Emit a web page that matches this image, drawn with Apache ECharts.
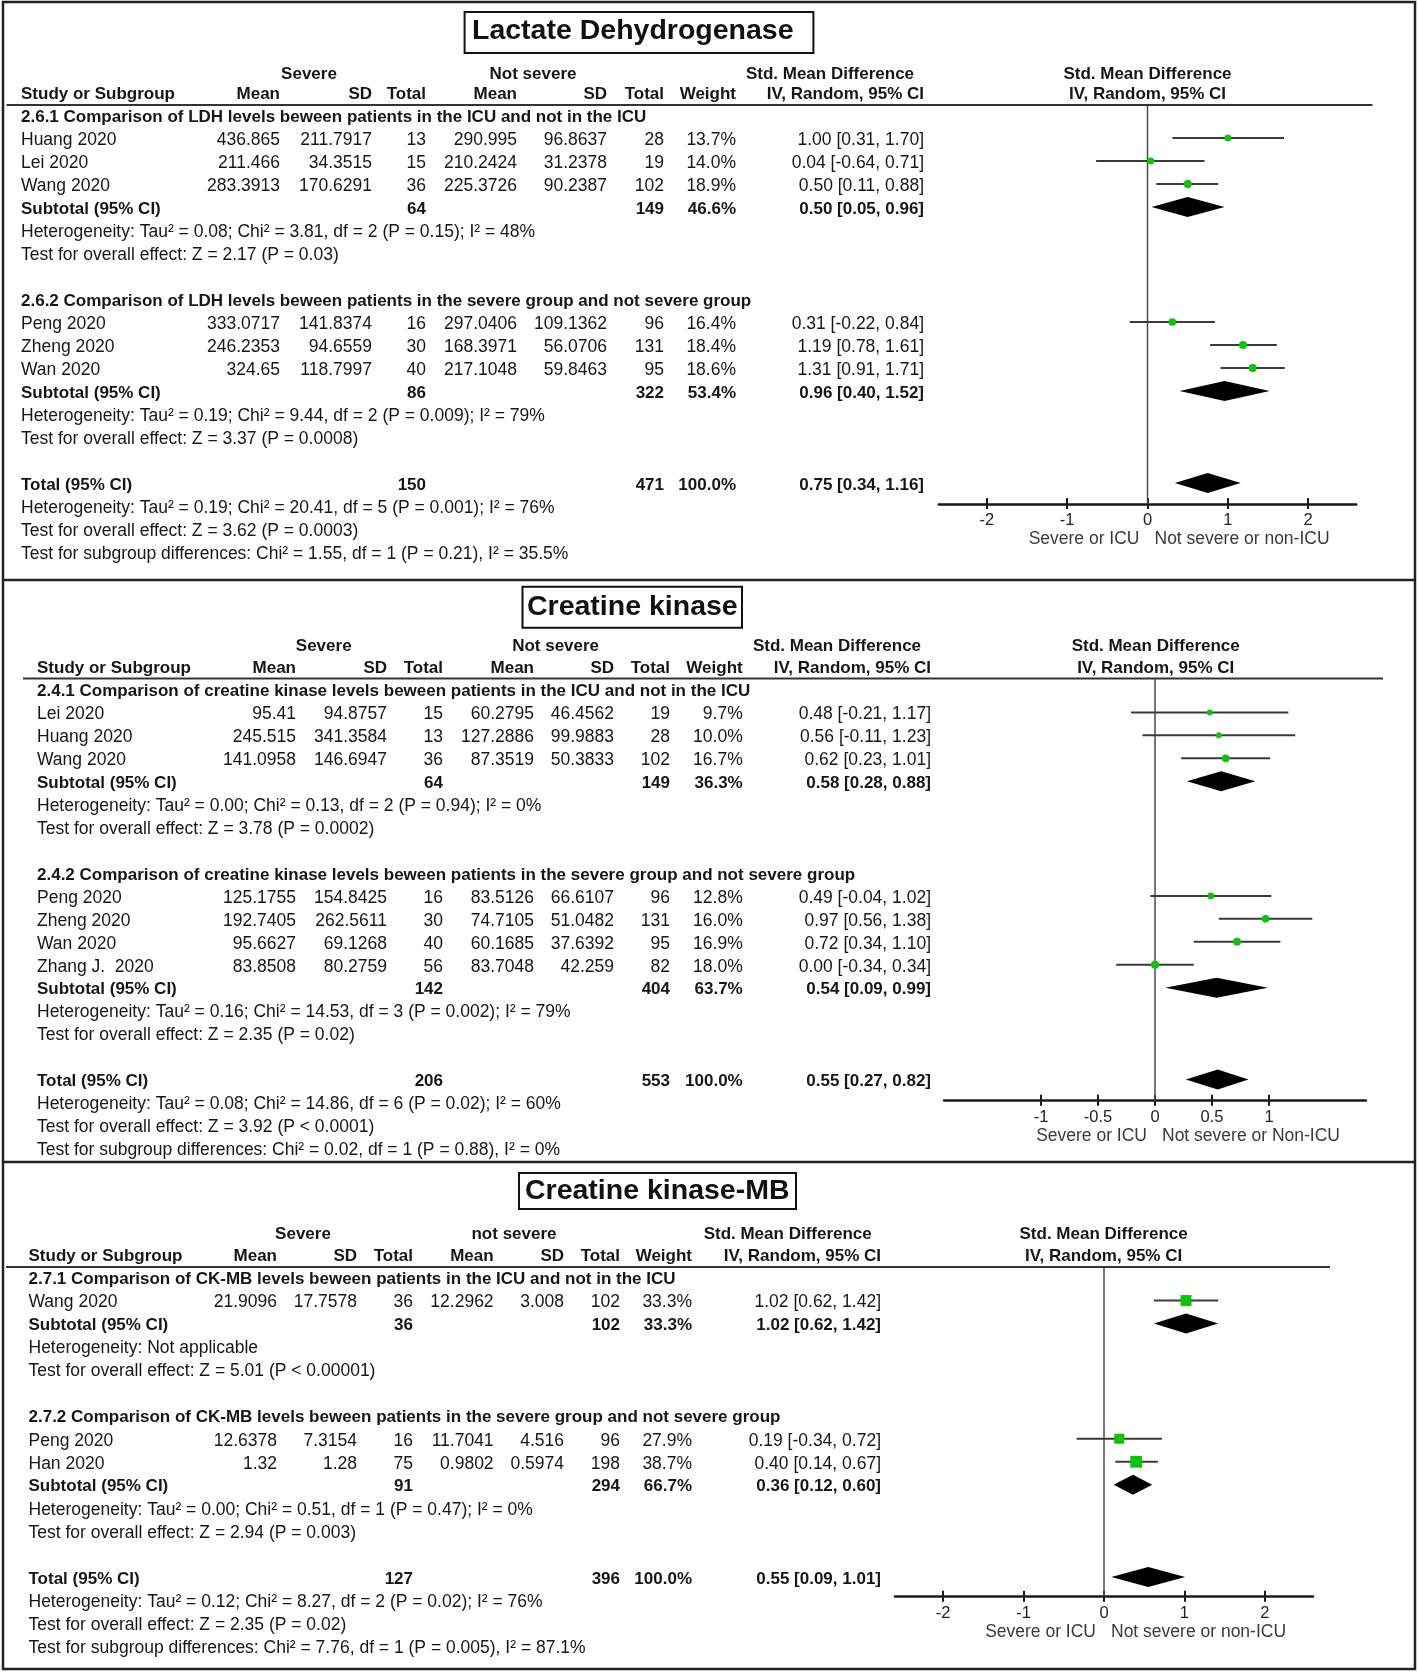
<!DOCTYPE html>
<html><head><meta charset="utf-8">
<script src="https://cdn.jsdelivr.net/npm/echarts/dist/echarts.min.js"></script>
<style>html,body{margin:0;padding:0;background:#fff}#chart{width:1418px;height:1676px}</style>
</head><body><div id="chart"></div>
<script>
// ================= DATA =================
// ---------- Panel 1: Lactate Dehydrogenase ----------
const ldhTitle = 'Lactate Dehydrogenase';
const ldhArmLabels = ['Severe', 'Not severe'];
const ldhSubgroups = ['2.6.1 Comparison of LDH levels beween patients in the ICU and not in the ICU',
                      '2.6.2 Comparison of LDH levels beween patients in the severe group and not severe group'];
const ldhStudies  = ['Huang 2020','Lei 2020','Wang 2020','Peng 2020','Zheng 2020','Wan 2020'];
const ldhStudyGrp = [0,0,0,1,1,1];
const ldhSevMean  = [436.865,211.466,283.3913,333.0717,246.2353,324.65];
const ldhSevSD    = [211.7917,34.3515,170.6291,141.8374,94.6559,118.7997];
const ldhSevN     = [13,15,36,16,30,40];
const ldhNsMean   = [290.995,210.2424,225.3726,297.0406,168.3971,217.1048];
const ldhNsSD     = [96.8637,31.2378,90.2387,109.1362,56.0706,59.8463];
const ldhNsN      = [28,19,102,96,131,95];
const ldhWeight   = [13.7,14.0,18.9,16.4,18.4,18.6];
const ldhSMD      = [1.00,0.04,0.50,0.31,1.19,1.31];
const ldhLower    = [0.31,-0.64,0.11,-0.22,0.78,0.91];
const ldhUpper    = [1.70,0.71,0.88,0.84,1.61,1.71];
const ldhSubSevN  = [64,86];
const ldhSubNsN   = [149,322];
const ldhSubWeight= [46.6,53.4];
const ldhSubSMD   = [0.50,0.96];
const ldhSubLower = [0.05,0.40];
const ldhSubUpper = [0.96,1.52];
const ldhSubHet   = ['Heterogeneity: Tau² = 0.08; Chi² = 3.81, df = 2 (P = 0.15); I² = 48%',
                     'Heterogeneity: Tau² = 0.19; Chi² = 9.44, df = 2 (P = 0.009); I² = 79%'];
const ldhSubTest  = ['Test for overall effect: Z = 2.17 (P = 0.03)',
                     'Test for overall effect: Z = 3.37 (P = 0.0008)'];
const ldhTotalN   = [150, 471];
const ldhTotalWeight = 100.0;
const ldhTotalEffect = [0.75, 0.34, 1.16];
const ldhTotalNotes  = ['Heterogeneity: Tau² = 0.19; Chi² = 20.41, df = 5 (P = 0.001); I² = 76%',
                        'Test for overall effect: Z = 3.62 (P = 0.0003)',
                        'Test for subgroup differences: Chi² = 1.55, df = 1 (P = 0.21), I² = 35.5%'];
const ldhTicks    = [-2,-1,0,1,2];
const ldhFavours  = ['Severe or ICU','Not severe or non-ICU'];

// ---------- Panel 2: Creatine kinase ----------
const ckTitle = 'Creatine kinase';
const ckArmLabels = ['Severe', 'Not severe'];
const ckSubgroups = ['2.4.1 Comparison of creatine kinase levels beween patients in the ICU and not in the ICU',
                     '2.4.2 Comparison of creatine kinase levels beween patients in the severe group and not severe group'];
const ckStudies  = ['Lei 2020','Huang 2020','Wang 2020','Peng 2020','Zheng 2020','Wan 2020','Zhang J.  2020'];
const ckStudyGrp = [0,0,0,1,1,1,1];
const ckSevMean  = [95.41,245.515,141.0958,125.1755,192.7405,95.6627,83.8508];
const ckSevSD    = [94.8757,341.3584,146.6947,154.8425,262.5611,69.1268,80.2759];
const ckSevN     = [15,13,36,16,30,40,56];
const ckNsMean   = [60.2795,127.2886,87.3519,83.5126,74.7105,60.1685,83.7048];
const ckNsSD     = [46.4562,99.9883,50.3833,66.6107,51.0482,37.6392,42.259];
const ckNsN      = [19,28,102,96,131,95,82];
const ckWeight   = [9.7,10.0,16.7,12.8,16.0,16.9,18.0];
const ckSMD      = [0.48,0.56,0.62,0.49,0.97,0.72,0.00];
const ckLower    = [-0.21,-0.11,0.23,-0.04,0.56,0.34,-0.34];
const ckUpper    = [1.17,1.23,1.01,1.02,1.38,1.10,0.34];
const ckSubSevN  = [64,142];
const ckSubNsN   = [149,404];
const ckSubWeight= [36.3,63.7];
const ckSubSMD   = [0.58,0.54];
const ckSubLower = [0.28,0.09];
const ckSubUpper = [0.88,0.99];
const ckSubHet   = ['Heterogeneity: Tau² = 0.00; Chi² = 0.13, df = 2 (P = 0.94); I² = 0%',
                    'Heterogeneity: Tau² = 0.16; Chi² = 14.53, df = 3 (P = 0.002); I² = 79%'];
const ckSubTest  = ['Test for overall effect: Z = 3.78 (P = 0.0002)',
                    'Test for overall effect: Z = 2.35 (P = 0.02)'];
const ckTotalN   = [206, 553];
const ckTotalWeight = 100.0;
const ckTotalEffect = [0.55, 0.27, 0.82];
const ckTotalNotes  = ['Heterogeneity: Tau² = 0.08; Chi² = 14.86, df = 6 (P = 0.02); I² = 60%',
                       'Test for overall effect: Z = 3.92 (P < 0.0001)',
                       'Test for subgroup differences: Chi² = 0.02, df = 1 (P = 0.88), I² = 0%'];
const ckTicks    = [-1,-0.5,0,0.5,1];
const ckFavours  = ['Severe or ICU','Not severe or Non-ICU'];

// ---------- Panel 3: Creatine kinase-MB ----------
const mbTitle = 'Creatine kinase-MB';
const mbArmLabels = ['Severe', 'not severe'];
const mbSubgroups = ['2.7.1 Comparison of CK-MB levels beween patients in the ICU and not in the ICU',
                     '2.7.2 Comparison of CK-MB levels beween patients in the severe group and not severe group'];
const mbStudies  = ['Wang 2020','Peng 2020','Han 2020'];
const mbStudyGrp = [0,1,1];
const mbSevMean  = [21.9096,12.6378,1.32];
const mbSevSD    = [17.7578,7.3154,1.28];
const mbSevN     = [36,16,75];
const mbNsMean   = [12.2962,11.7041,0.9802];
const mbNsSD     = [3.008,4.516,0.5974];
const mbNsN      = [102,96,198];
const mbWeight   = [33.3,27.9,38.7];
const mbSMD      = [1.02,0.19,0.40];
const mbLower    = [0.62,-0.34,0.14];
const mbUpper    = [1.42,0.72,0.67];
const mbSubSevN  = [36,91];
const mbSubNsN   = [102,294];
const mbSubWeight= [33.3,66.7];
const mbSubSMD   = [1.02,0.36];
const mbSubLower = [0.62,0.12];
const mbSubUpper = [1.42,0.60];
const mbSubHet   = ['Heterogeneity: Not applicable',
                    'Heterogeneity: Tau² = 0.00; Chi² = 0.51, df = 1 (P = 0.47); I² = 0%'];
const mbSubTest  = ['Test for overall effect: Z = 5.01 (P < 0.00001)',
                    'Test for overall effect: Z = 2.94 (P = 0.003)'];
const mbTotalN   = [127, 396];
const mbTotalWeight = 100.0;
const mbTotalEffect = [0.55, 0.09, 1.01];
const mbTotalNotes  = ['Heterogeneity: Tau² = 0.12; Chi² = 8.27, df = 2 (P = 0.02); I² = 76%',
                       'Test for overall effect: Z = 2.35 (P = 0.02)',
                       'Test for subgroup differences: Chi² = 7.76, df = 1 (P = 0.005), I² = 87.1%'];
const mbTicks    = [-2,-1,0,1,2];
const mbFavours  = ['Severe or ICU','Not severe or non-ICU'];

// ================= LAYOUT (positions & styles only) =================
const FONT = '"Liberation Sans", Arial, Helvetica, sans-serif';
const INK = '#161616';
const GREEN = '#10c210';
const FS = 17.5;      // regular text
const FSB = 17;       // bold text

const LAYOUT = [
  {zeroX:1147.5, unit:80.3, xmin:-2.6, xmax:2.6, rowTop:92, pitch:23, textDy:2, head1:-20,
   headerLineY:105, axisY:504, lineX1:6.5, lineX2:1372.5,
   col:{study:21, sevMean:280, sevSD:372, sevN:426, nsMean:517, nsSD:607, nsN:664, weight:736, ci:924,
        severeHead:309, nsHead:533, smdHead:830, plotHead:1147.5},
   titleBox:[464.6,12,813.4,53], titleText:[472,31.5], square:false, markerK:1.9},
  {zeroX:1155, unit:114, xmin:-1.85, xmax:1.85, rowTop:666.5, pitch:22.94, textDy:2, head1:-22,
   headerLineY:678.5, axisY:1100.7, lineX1:23, lineX2:1383,
   col:{study:37, sevMean:296, sevSD:387, sevN:443, nsMean:534, nsSD:614, nsN:670, weight:742.7, ci:931,
        severeHead:323.7, nsHead:555.6, smdHead:837, plotHead:1155.7},
   titleBox:[522.5,586.7,742,627.7], titleText:[527,607], square:false, markerK:1.9},
  {zeroX:1104, unit:80.4, xmin:-2.6, xmax:2.6, rowTop:1254.5, pitch:23.03, textDy:2, head1:-22.5,
   headerLineY:1267, axisY:1596.7, lineX1:6, lineX2:1330,
   col:{study:28.5, sevMean:277, sevSD:357, sevN:413, nsMean:493.6, nsSD:564, nsN:620, weight:692, ci:881,
        severeHead:303, nsHead:514, smdHead:787.7, plotHead:1103.6},
   titleBox:[519,1173,796,1209], titleText:[525,1191.5], square:true, markerK:1.9}
];

const PANELS = [
  {title:ldhTitle, arms:ldhArmLabels, subgroups:ldhSubgroups, studies:ldhStudies, grp:ldhStudyGrp,
   sevMean:ldhSevMean, sevSD:ldhSevSD, sevN:ldhSevN, nsMean:ldhNsMean, nsSD:ldhNsSD, nsN:ldhNsN,
   weight:ldhWeight, smd:ldhSMD, lo:ldhLower, hi:ldhUpper,
   subSevN:ldhSubSevN, subNsN:ldhSubNsN, subWeight:ldhSubWeight, subSmd:ldhSubSMD, subLo:ldhSubLower, subHi:ldhSubUpper,
   subHet:ldhSubHet, subTest:ldhSubTest, totalN:ldhTotalN, totalWeight:ldhTotalWeight, totalEffect:ldhTotalEffect,
   totalNotes:ldhTotalNotes, ticks:ldhTicks, favours:ldhFavours},
  {title:ckTitle, arms:ckArmLabels, subgroups:ckSubgroups, studies:ckStudies, grp:ckStudyGrp,
   sevMean:ckSevMean, sevSD:ckSevSD, sevN:ckSevN, nsMean:ckNsMean, nsSD:ckNsSD, nsN:ckNsN,
   weight:ckWeight, smd:ckSMD, lo:ckLower, hi:ckUpper,
   subSevN:ckSubSevN, subNsN:ckSubNsN, subWeight:ckSubWeight, subSmd:ckSubSMD, subLo:ckSubLower, subHi:ckSubUpper,
   subHet:ckSubHet, subTest:ckSubTest, totalN:ckTotalN, totalWeight:ckTotalWeight, totalEffect:ckTotalEffect,
   totalNotes:ckTotalNotes, ticks:ckTicks, favours:ckFavours},
  {title:mbTitle, arms:mbArmLabels, subgroups:mbSubgroups, studies:mbStudies, grp:mbStudyGrp,
   sevMean:mbSevMean, sevSD:mbSevSD, sevN:mbSevN, nsMean:mbNsMean, nsSD:mbNsSD, nsN:mbNsN,
   weight:mbWeight, smd:mbSMD, lo:mbLower, hi:mbUpper,
   subSevN:mbSubSevN, subNsN:mbSubNsN, subWeight:mbSubWeight, subSmd:mbSubSMD, subLo:mbSubLower, subHi:mbSubUpper,
   subHet:mbSubHet, subTest:mbSubTest, totalN:mbTotalN, totalWeight:mbTotalWeight, totalEffect:mbTotalEffect,
   totalNotes:mbTotalNotes, ticks:mbTicks, favours:mbFavours}
];

// ================= BUILD =================
function fmtCI(m, l, h) { return m.toFixed(2) + ' [' + l.toFixed(2) + ', ' + h.toFixed(2) + ']'; }
function txt(G, s, x, y, align, bold, size, color) {
  const a = align || 'left';
  const sz = size || (bold ? FSB : FS);
  G.push({type:'text', silent:true, z:100, x:x, y:y,
    style:{text:s, font:(bold ? 'bold ' : '') + sz + 'px ' + FONT, fill:color || INK,
           textAlign:a, textVerticalAlign:'middle', align:a, verticalAlign:'middle'}});
}

const G = [], grids = [], xAxes = [], yAxes = [], series = [];

// outer frame and panel separators
G.push({type:'rect', silent:true, z:50, shape:{x:3, y:2, width:1412, height:1667}, style:{fill:'none', stroke:'#222', lineWidth:2.5}});
G.push({type:'line', silent:true, z:50, shape:{x1:3, y1:580, x2:1415, y2:580}, style:{stroke:'#222', lineWidth:2.5}});
G.push({type:'line', silent:true, z:50, shape:{x1:3, y1:1162, x2:1415, y2:1162}, style:{stroke:'#222', lineWidth:2.5}});

PANELS.forEach(function (P, pi) {
  const L = LAYOUT[pi], C = L.col;
  const rowY = r => L.rowTop + r * L.pitch;
  const ty = r => rowY(r) + L.textDy;

  // title box
  G.push({type:'rect', silent:true, z:60, shape:{x:L.titleBox[0], y:L.titleBox[1], width:L.titleBox[2]-L.titleBox[0], height:L.titleBox[3]-L.titleBox[1]},
          style:{fill:'#fff', stroke:'#111', lineWidth:2}});
  txt(G, P.title, L.titleText[0], L.titleText[1], 'left', true, 28.5, '#111');

  // column headers
  const h1 = ty(0) + L.head1, h2 = ty(0);
  txt(G, P.arms[0], C.severeHead, h1, 'center', true);
  txt(G, P.arms[1], C.nsHead, h1, 'center', true);
  txt(G, 'Std. Mean Difference', C.smdHead, h1, 'center', true);
  txt(G, 'Std. Mean Difference', C.plotHead, h1, 'center', true);
  txt(G, 'Study or Subgroup', C.study, h2, 'left', true);
  txt(G, 'Mean', C.sevMean, h2, 'right', true);
  txt(G, 'SD', C.sevSD, h2, 'right', true);
  txt(G, 'Total', C.sevN, h2, 'right', true);
  txt(G, 'Mean', C.nsMean, h2, 'right', true);
  txt(G, 'SD', C.nsSD, h2, 'right', true);
  txt(G, 'Total', C.nsN, h2, 'right', true);
  txt(G, 'Weight', C.weight, h2, 'right', true);
  txt(G, 'IV, Random, 95% CI', C.ci, h2, 'right', true);
  txt(G, 'IV, Random, 95% CI', C.plotHead, h2, 'center', true);
  G.push({type:'line', silent:true, z:60, shape:{x1:L.lineX1, y1:L.headerLineY, x2:L.lineX2, y2:L.headerLineY},
          style:{stroke:'#333', lineWidth:2}});

  const studyData = [], diamondData = [];
  let r = 1;
  for (let g = 0; g < P.subgroups.length; g++) {
    txt(G, P.subgroups[g], C.study, ty(r), 'left', true); r++;
    for (let i = 0; i < P.studies.length; i++) {
      if (P.grp[i] !== g) continue;
      const y = ty(r);
      txt(G, P.studies[i], C.study, y, 'left');
      txt(G, String(P.sevMean[i]), C.sevMean, y, 'right');
      txt(G, String(P.sevSD[i]), C.sevSD, y, 'right');
      txt(G, String(P.sevN[i]), C.sevN, y, 'right');
      txt(G, String(P.nsMean[i]), C.nsMean, y, 'right');
      txt(G, String(P.nsSD[i]), C.nsSD, y, 'right');
      txt(G, String(P.nsN[i]), C.nsN, y, 'right');
      txt(G, P.weight[i].toFixed(1) + '%', C.weight, y, 'right');
      txt(G, fmtCI(P.smd[i], P.lo[i], P.hi[i]), C.ci, y, 'right');
      studyData.push([P.smd[i], r, P.lo[i], P.hi[i], P.weight[i]]);
      r++;
    }
    const ys = ty(r);
    txt(G, 'Subtotal (95% CI)', C.study, ys, 'left', true);
    txt(G, String(P.subSevN[g]), C.sevN, ys, 'right', true);
    txt(G, String(P.subNsN[g]), C.nsN, ys, 'right', true);
    txt(G, P.subWeight[g].toFixed(1) + '%', C.weight, ys, 'right', true);
    txt(G, fmtCI(P.subSmd[g], P.subLo[g], P.subHi[g]), C.ci, ys, 'right', true);
    diamondData.push([P.subSmd[g], r, P.subLo[g], P.subHi[g]]);
    r++;
    txt(G, P.subHet[g], C.study, ty(r), 'left'); r++;
    txt(G, P.subTest[g], C.study, ty(r), 'left'); r++;
    r++; // blank line
  }
  const yt = ty(r);
  txt(G, 'Total (95% CI)', C.study, yt, 'left', true);
  txt(G, String(P.totalN[0]), C.sevN, yt, 'right', true);
  txt(G, String(P.totalN[1]), C.nsN, yt, 'right', true);
  txt(G, P.totalWeight.toFixed(1) + '%', C.weight, yt, 'right', true);
  txt(G, fmtCI(P.totalEffect[0], P.totalEffect[1], P.totalEffect[2]), C.ci, yt, 'right', true);
  diamondData.push([P.totalEffect[0], r, P.totalEffect[1], P.totalEffect[2]]);
  r++;
  P.totalNotes.forEach(function (n) { txt(G, n, C.study, ty(r), 'left'); r++; });

  // favours labels
  txt(G, P.favours[0], L.zeroX - 8, L.axisY + 35, 'right', false, 17.5, '#3a3a3a');
  txt(G, P.favours[1], L.zeroX + 7, L.axisY + 35, 'left', false, 17.5, '#3a3a3a');

  // grid + axes
  const ymin = (L.headerLineY - L.rowTop) / L.pitch;
  const ymax = (L.axisY - L.rowTop) / L.pitch;
  grids.push({left:L.zeroX + L.xmin * L.unit, width:(L.xmax - L.xmin) * L.unit,
              top:L.headerLineY, height:L.axisY - L.headerLineY, containLabel:false, outerBoundsMode:'none'});
  xAxes.push({type:'value', gridIndex:pi, min:L.xmin, max:L.xmax, position:'bottom',
    axisLine:{show:true, onZero:false, lineStyle:{color:'#1a1a1a', width:2.5}},
    axisTick:{show:true, inside:false, length:5, customValues:P.ticks, lineStyle:{color:'#1a1a1a', width:2}},
    axisLabel:{show:true, customValues:P.ticks, margin:8, fontFamily:FONT, fontSize:16.5, color:'#222'},
    splitLine:{show:false}});
  xAxes.push({type:'value', gridIndex:pi, min:L.xmin, max:L.xmax, position:'bottom',
    axisLine:{show:false, onZero:false},
    axisTick:{show:true, inside:true, length:6, customValues:P.ticks, lineStyle:{color:'#1a1a1a', width:2}},
    axisLabel:{show:false}, splitLine:{show:false}});
  yAxes.push({type:'value', gridIndex:pi, min:ymin, max:ymax, inverse:true, show:false});

  // line of no effect
  series.push({type:'line', xAxisIndex:2*pi, yAxisIndex:pi, data:[[0, ymin], [0, ymax]], symbol:'none',
               silent:true, z:1, lineStyle:{color:'#4a4a4a', width:1.5}});
  // study estimates
  series.push({type:'custom', xAxisIndex:2*pi, yAxisIndex:pi, data:studyData, encode:{x:0, y:1}, silent:true, z:5,
    renderItem: function (params, api) {
      const m = api.value(0), rr = api.value(1), lo = api.value(2), hi = api.value(3), w = api.value(4);
      const a = api.coord([lo, rr]), b = api.coord([hi, rr]), c = api.coord([m, rr]);
      const s = L.markerK * Math.sqrt(w);
      const marker = L.square
        ? {type:'rect', shape:{x:c[0]-s/2, y:c[1]-s/2, width:s, height:s}, style:{fill:GREEN}}
        : {type:'circle', shape:{cx:c[0], cy:c[1], r:s/2}, style:{fill:GREEN}};
      return {type:'group', children:[
        {type:'line', shape:{x1:a[0], y1:a[1], x2:b[0], y2:b[1]}, style:{stroke:'#3a3a3a', lineWidth:2}},
        marker]};
    }});
  // pooled diamonds
  series.push({type:'custom', xAxisIndex:2*pi, yAxisIndex:pi, data:diamondData, encode:{x:0, y:1}, silent:true, z:6,
    renderItem: function (params, api) {
      const m = api.value(0), rr = api.value(1), lo = api.value(2), hi = api.value(3);
      const a = api.coord([lo, rr]), b = api.coord([hi, rr]), c = api.coord([m, rr]);
      const h = 10;
      return {type:'polygon', shape:{points:[[a[0], a[1]], [c[0], c[1]-h], [b[0], b[1]], [c[0], c[1]+h]]},
              style:{fill:'#000'}};
    }});
});

const chart = echarts.init(document.getElementById('chart'), null, {renderer:'canvas'});
chart.setOption({
  animation:false,
  backgroundColor:'#fff',
  grid:grids, xAxis:xAxes, yAxis:yAxes, series:series,
  graphic:{elements:G}
});
</script></body></html>
